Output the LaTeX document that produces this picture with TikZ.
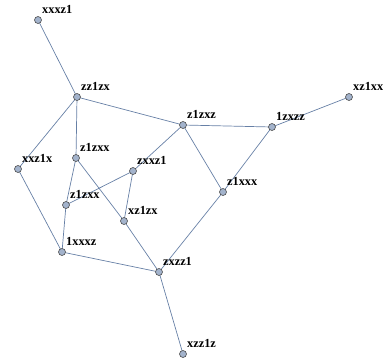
\documentclass[tikz,border=0pt]{standalone}
\usepackage{fontspec}
\setmainfont{Liberation Serif}
\usetikzlibrary{backgrounds}
\definecolor{edgec}{RGB}{103,128,166}
\definecolor{vfill}{RGB}{163,179,204}
\definecolor{vline}{RGB}{77,77,77}
\begin{document}
\begin{tikzpicture}[x=1pt,y=-1pt,
  vert/.style={circle,draw=vline,fill=vfill,line width=0.6pt,minimum size=7pt,inner sep=0pt},
  lab/.style={anchor=south west,inner sep=0pt,font=\bfseries\fontsize{12.3}{13}\selectfont},
  conn/.style={draw=edgec,line width=0.7pt}]
\useasboundingbox (0,0) rectangle (383,360);
\node[vert] (a) at (38,20) {};
\node[vert] (b) at (77,97) {};
\node[vert] (c) at (183,125) {};
\node[vert] (d) at (272,127) {};
\node[vert] (e) at (349,97) {};
\node[vert] (f) at (18,169) {};
\node[vert] (g) at (76,158) {};
\node[vert] (h) at (133,171) {};
\node[vert] (i) at (223,192) {};
\node[vert] (j) at (66,205) {};
\node[vert] (k) at (124,221) {};
\node[vert] (l) at (62,252) {};
\node[vert] (m) at (159,272) {};
\node[vert] (n) at (183,354) {};
\begin{scope}[on background layer]
\path[conn] (a.center) -- (b.center);
\path[conn] (b.center) -- (c.center);
\path[conn] (b.center) -- (f.center);
\path[conn] (b.center) -- (g.center);
\path[conn] (c.center) -- (d.center);
\path[conn] (d.center) -- (e.center);
\path[conn] (c.center) -- (h.center);
\path[conn] (c.center) -- (i.center);
\path[conn] (d.center) -- (i.center);
\path[conn] (i.center) -- (m.center);
\path[conn] (f.center) -- (l.center);
\path[conn] (g.center) -- (j.center);
\path[conn] (g.center) -- (k.center);
\path[conn] (h.center) -- (j.center);
\path[conn] (h.center) -- (k.center);
\path[conn] (j.center) -- (l.center);
\path[conn] (l.center) -- (m.center);
\path[conn] (k.center) -- (m.center);
\path[conn] (m.center) -- (n.center);
\end{scope}
\node[lab] (ta) at ([shift={(4,-6)}]a.center) {xxxz1};
\node[lab] (tb) at ([shift={(4,-6)}]b.center) {zz1zx};
\node[lab] (tc) at ([shift={(4,-6)}]c.center) {z1zxz};
\node[lab] (td) at ([shift={(4,-6)}]d.center) {1zxzz};
\node[lab] (te) at ([shift={(4,-6)}]e.center) {xz1xx};
\node[lab] (tf) at ([shift={(4,-6)}]f.center) {xxz1x};
\node[lab] (tg) at ([shift={(4,-6)}]g.center) {z1zxx};
\node[lab] (th) at ([shift={(4,-6)}]h.center) {zxxz1};
\node[lab] (ti) at ([shift={(4,-6)}]i.center) {z1xxx};
\node[lab] (tj) at ([shift={(4,-6)}]j.center) {z1zxx};
\node[lab] (tk) at ([shift={(4,-6)}]k.center) {xz1zx};
\node[lab] (tl) at ([shift={(4,-6)}]l.center) {1xxxz};
\node[lab] (tm) at ([shift={(4,-6)}]m.center) {zxzz1};
\node[lab] (tn) at ([shift={(4,-6)}]n.center) {xzz1z};
\end{tikzpicture}
\end{document}
